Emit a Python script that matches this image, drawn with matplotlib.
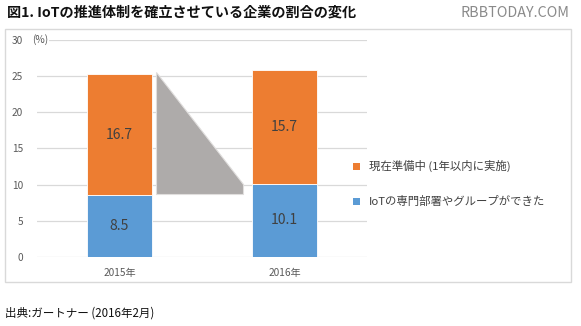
import matplotlib
matplotlib.use("Agg")
import matplotlib.pyplot as plt
from matplotlib.patches import Rectangle, Polygon

plt.rcParams['font.family'] = ['Noto Sans CJK JP', 'DejaVu Sans']

years = ["2015年", "2016年"]
established = [8.5, 10.1]      # IoTの専門部署やグループができた
preparing = [16.7, 15.7]       # 現在準備中 (1年以内に実施)
series_names = ["現在準備中 (1年以内に実施)", "IoTの専門部署やグループができた"]
yticks = [0, 5, 10, 15, 20, 25, 30]

W, H = 581, 326
fig = plt.figure(figsize=(W / 100, H / 100), dpi=100)

# chart frame
fig.patches.append(Rectangle((5 / W, 1 - 282 / H), 566 / W, 253 / H,
                             transform=fig.transFigure, fill=False,
                             edgecolor="#D9D9D9", linewidth=1.0))

ax = fig.add_axes([37 / W, 1 - 257 / H, 330 / W, 217.3 / H])
blue = "#5B9BD5"
orange = "#ED7D31"
x = [0, 1]
bw = 0.39
ax.bar(x, established, bw, color=blue, edgecolor="white", linewidth=0.6, zorder=3)
ax.bar(x, preparing, bw, bottom=established, color=orange,
       edgecolor="white", linewidth=0.6, zorder=3)

for xi, a, b in zip(x, established, preparing):
    ax.text(xi, a / 2, f"{a:.1f}", ha="center", va="center",
            fontsize=10, color="#404040", zorder=4)
    ax.text(xi, a + b / 2, f"{b:.1f}", ha="center", va="center",
            fontsize=10, color="#404040", zorder=4)

# connector shape between the two years
x0, x1 = 0.22, 0.75
top0 = established[0] + preparing[0]
ax.add_patch(Polygon([(x0, top0 + 0.3), (x0, established[0] + 0.2),
                      (x1, established[0] + 0.2), (x1, established[1])],
                     closed=True, facecolor="#AEABAA", edgecolor="#E0DEDD",
                     linewidth=0.8, zorder=3))

ax.set_xlim(-0.5, 1.5)
ax.set_ylim(0, 30)
ax.set_yticks(yticks)
ax.set_yticklabels([str(t) for t in yticks])
ax.set_xticks(x)
ax.set_xticklabels(years)
ax.grid(axis="y", color="#D9D9D9", linewidth=0.9, zorder=0)
for s in ax.spines.values():
    s.set_visible(False)
ax.tick_params(axis="both", length=0, labelsize=7.3, labelcolor="#595959")
ax.tick_params(axis="y", pad=10)
ax.tick_params(axis="x", pad=8)
fig.text(32 / W, 1 - 40 / H, "(%)", fontsize=7.3, color="#595959", ha="left",
         va="center", bbox=dict(facecolor="white", edgecolor="none", pad=0.3),
         zorder=5)

# legend
for yy, col, name in zip([166, 201], [orange, blue], series_names):
    fig.patches.append(Rectangle((353 / W, 1 - (yy + 3.5) / H), 7 / W, 7 / H,
                                 transform=fig.transFigure, facecolor=col,
                                 edgecolor="none"))
    fig.text(369 / W, 1 - yy / H, name, fontsize=8.2, color="#404040",
             ha="left", va="center")

fig.text(7 / W, 1 - 13 / H, "図1. IoTの推進体制を確立させている企業の割合の変化",
         fontsize=10.2, fontweight="bold", color="#111111", ha="left", va="center")
fig.text(569 / W, 1 - 13 / H, "RBBTODAY.COM", fontsize=10.3, color="#8A8A8A",
         ha="right", va="center")
fig.text(5 / W, 1 - 313 / H, "出典:ガートナー (2016年2月)", fontsize=8.3,
         color="#111111", ha="left", va="center")

fig.savefig("out.png", dpi=100)
